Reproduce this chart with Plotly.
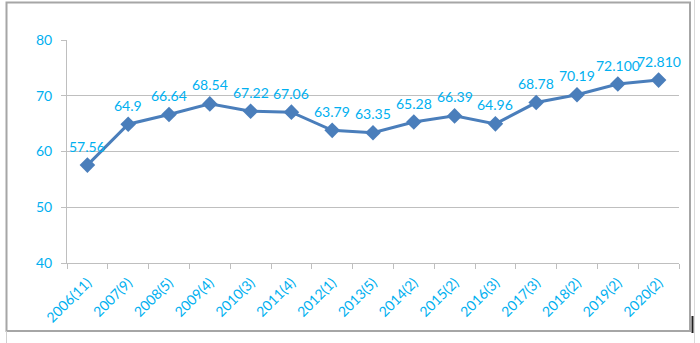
import plotly.graph_objects as go

# Survey rounds: year (number of rounds that year)
categories = ["2006(11)", "2007(9)", "2008(5)", "2009(4)", "2010(3)", "2011(4)",
              "2012(1)", "2013(5)", "2014(2)", "2015(2)", "2016(3)", "2017(3)",
              "2018(2)", "2019(2)", "2020(2)"]
value_labels = ["57.56", "64.9", "66.64", "68.54", "67.22", "67.06", "63.79",
                "63.35", "65.28", "66.39", "64.96", "68.78", "70.19", "72.100", "72.810"]
values = [float(s) for s in value_labels]
y_ticks = [40, 50, 60, 70, 80]

TEXT_BLUE = "#00B0F0"
LINE_BLUE = "#4A7EBB"
GRID = "#BFBFBF"
FONT = "Lato"

fig = go.Figure()
fig.add_trace(go.Scatter(
    x=categories, y=values,
    mode="lines+markers",
    line=dict(color=LINE_BLUE, width=3),
    marker=dict(symbol="diamond", size=12, color=LINE_BLUE),
    hoverinfo="x+y",
))

# Value labels above each point
for cat, val, lab in zip(categories, values, value_labels):
    fig.add_annotation(
        x=cat, y=val, text=lab, showarrow=False,
        xanchor="center", yanchor="middle", yshift=19,
        font=dict(family=FONT, size=14, color=TEXT_BLUE),
    )

fig.update_layout(
    width=700, height=343,
    margin=dict(l=67, r=21, t=40, b=80),
    paper_bgcolor="white", plot_bgcolor="white",
    showlegend=False,
    font=dict(family=FONT, color=TEXT_BLUE),
)

fig.update_xaxes(
    type="category",
    range=[-0.5, len(categories) - 0.5],
    tickangle=-45,
    tickson="boundaries",
    ticks="outside", ticklen=5, tickcolor=GRID,
    showline=True, linecolor=GRID, linewidth=1,
    showgrid=False,
    tickfont=dict(family=FONT, size=14, color=TEXT_BLUE),
    ticklabelstandoff=5,
)
fig.update_yaxes(
    range=[40, 80],
    tickvals=y_ticks,
    ticks="outside", ticklen=5, tickcolor=GRID,
    showline=True, linecolor=GRID, linewidth=1,
    showgrid=True, gridcolor=GRID, gridwidth=1,
    zeroline=False,
    tickfont=dict(family=FONT, size=14, color=TEXT_BLUE),
    ticklabelstandoff=6,
)

# Outer chart frame
plot_left, plot_w = 67, 612
plot_bottom, plot_h = 263, 223


def px_x(p):
    return (p - plot_left) / plot_w


def px_y(p):
    return (plot_bottom - p) / plot_h


fig.add_shape(type="rect", xref="paper", yref="paper",
              x0=px_x(6.5), x1=px_x(690), y0=px_y(331), y1=px_y(2.5),
              line=dict(color="#A6A6A6", width=2), layer="below")
fig.add_shape(type="line", xref="paper", yref="paper",
              x0=px_x(6.5), x1=px_x(6.5), y0=px_y(343), y1=px_y(331),
              line=dict(color="#D0D0D0", width=1))
fig.add_shape(type="line", xref="paper", yref="paper",
              x0=px_x(694.5), x1=px_x(694.5), y0=px_y(0), y1=px_y(343),
              line=dict(color="#D9D9D9", width=1))
fig.add_shape(type="line", xref="paper", yref="paper",
              x0=px_x(692.5), x1=px_x(692.5), y0=px_y(316), y1=px_y(333),
              line=dict(color="#202020", width=2))

fig.write_html("out.html")
